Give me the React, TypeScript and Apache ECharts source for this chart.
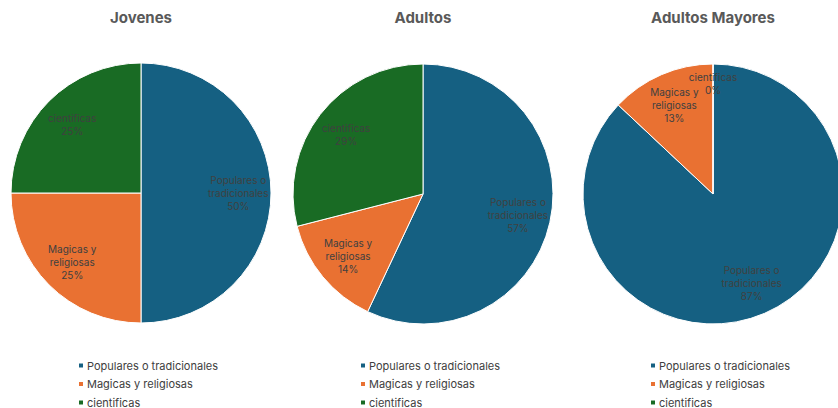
import React, { useEffect, useRef } from "react";
import * as echarts from "echarts";

const categories = ["Populares o tradicionales", "Magicas y religiosas", "cientificas"];
const groupTitles = ["Jovenes", "Adultos", "Adultos Mayores"];
const jovenesValues = [50, 25, 25];
const adultosValues = [57, 14, 29];
const mayoresValues = [87, 13, 0];
const colors = ["#156082", "#E97132", "#196B24"];

const FONT = "Inter, 'Noto Sans', sans-serif";

// wrap a label after its second word, as the reference's data labels do
const wrapName = (s: string) => s.replace(/^(\S+ \S+) /, "$1\n");

export default function App() {
  const ref = useRef<HTMLDivElement>(null);
  useEffect(() => {
    if (!ref.current) return;
    const chart = echarts.init(ref.current, undefined, { renderer: "svg" });
    const groups = [jovenesValues, adultosValues, mayoresValues];
    const centers: [number, number][] = [
      [141, 193],
      [423, 194],
      [713, 194],
    ];
    const R = 130;
    const series: any[] = [];
    groups.forEach((vals, gi) => {
      const data = categories.map((name, i) => ({ name, value: vals[i] }));
      // label carrier: zero-valued slices get a hair-thin sector so ECharts still places their label
      const labelData = categories.map((name, i) => ({
        name,
        value: vals[i] === 0 ? 1e-4 : vals[i],
        realValue: vals[i],
      }));
      series.push({
        type: "pie",
        center: centers[gi],
        radius: [0, R],
        startAngle: 90,
        clockwise: true,
        data,
        itemStyle: { borderColor: "#ffffff", borderWidth: 1 },
        label: { show: false },
        labelLine: { show: false },
        emphasis: { disabled: true },
      });
      series.push({
        type: "pie",
        center: centers[gi],
        radius: [R * 0.45, R],
        startAngle: 90,
        clockwise: true,
        minShowLabelAngle: 0,
        silent: true,
        legendHoverLink: false,
        data: labelData,
        itemStyle: { color: "transparent", borderWidth: 0 },
        labelLayout: { hideOverlap: false },
        label: {
          show: true,
          position: "inside",
          formatter: (p: any) =>
            `${wrapName(p.name)}\n${p.data.realValue}%` + (p.data.realValue === 0 ? "\n \n " : ""),
          color: "#404040",
          fontSize: 10,
          lineHeight: 13,
          fontFamily: FONT,
          align: "center",
        },
        labelLine: { show: false },
        emphasis: { disabled: true },
      });
    });
    const legendLefts = [77, 359, 649];
    chart.setOption({
      animation: false,
      color: colors,
      title: groupTitles.map((t, i) => ({
        text: t,
        left: centers[i][0],
        top: 10,
        padding: 0,
        textAlign: "center",
        textStyle: { fontSize: 15, fontWeight: "bold", color: "#595959", fontFamily: FONT },
      })),
      legend: legendLefts.map((l) => ({
        orient: "vertical",
        left: l,
        top: 360,
        height: 80,
        data: categories,
        icon: "rect",
        itemWidth: 6,
        itemHeight: 6,
        itemGap: 7.5,
        selectedMode: false,
        textStyle: { fontSize: 11, color: "#404040", fontFamily: FONT, lineHeight: 11, padding: [0, 0, 0, -2] },
        padding: 0,
      })),
      series,
    });
    return () => chart.dispose();
  }, []);
  return (
    <div
      ref={ref}
      style={{ position: "absolute", left: 0, top: 0, width: 838, height: 408, background: "#ffffff" }}
    />
  );
}
